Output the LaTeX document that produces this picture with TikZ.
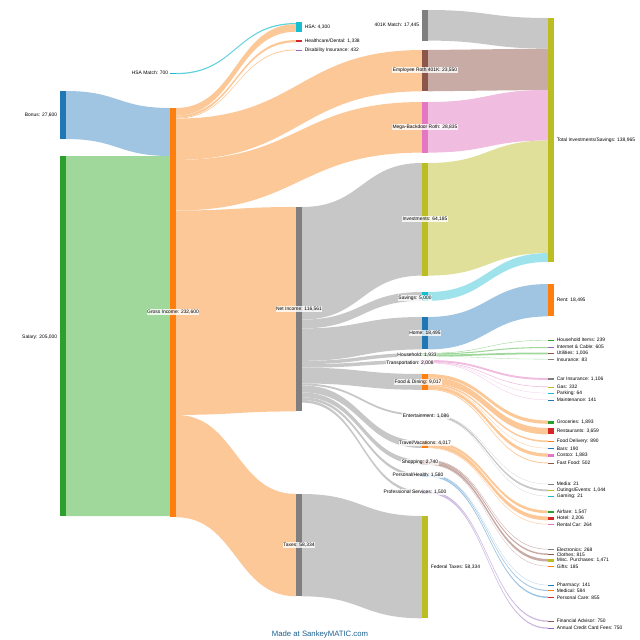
\documentclass[tikz,border=0pt]{standalone}
\usepackage{fontspec}
\setmainfont{Liberation Sans}
\definecolor{cblue}{HTML}{1F77B4}\definecolor{cgreen}{HTML}{2CA02C}
\definecolor{corange}{HTML}{FF7F0E}\definecolor{cred}{HTML}{D62728}
\definecolor{cpurple}{HTML}{9467BD}\definecolor{cbrown}{HTML}{8C564B}
\definecolor{cpink}{HTML}{E377C2}\definecolor{cgray}{HTML}{7F7F7F}
\definecolor{colive}{HTML}{BCBD22}\definecolor{ccyan}{HTML}{17BECF}
\definecolor{lblue}{HTML}{9FC5E2}\definecolor{lgreen}{HTML}{A0D79B}
\definecolor{lorange}{HTML}{FDC898}\definecolor{lgray}{HTML}{C7C7C7}
\definecolor{lbrown}{HTML}{C8ABA5}\definecolor{lpink}{HTML}{F0BDE0}
\definecolor{lolive}{HTML}{E0E09B}\definecolor{lcyan}{HTML}{9EE3EC}
\definecolor{lpurple}{HTML}{CDB9E0}
\newcommand{\flow}[6]{\fill[#6] (#1,#2) .. controls ({(#1+#3)/2},#2) and ({(#1+#3)/2},#4) .. (#3,#4)
  -- (#3,{#4+#5}) .. controls ({(#1+#3)/2},{#4+#5}) and ({(#1+#3)/2},{#2+#5}) .. (#1,{#2+#5}) -- cycle;}
\newcommand{\snode}[5]{\node[bar,fill=#5,minimum height={#4*0.025cm}] (#1) at ({#2+3},{#3+#4/2}) {};}
\begin{document}
\begin{tikzpicture}[x=0.025cm,y=-0.025cm,
  bar/.style={rectangle,draw=none,inner sep=0pt,minimum width=0.15cm},
  lbl/.style={font=\fontsize{3.5}{4}\selectfont,inner sep=0.4pt},
  lblw/.style={lbl,fill=white,fill opacity=0.8,text opacity=1},
  lft/.style={lbl,anchor=east},
  rgt/.style={lbl,anchor=west}]
\useasboundingbox (0,0) rectangle (640,640);
% flows, column 0 -> 1
\flow{66}{91}{170}{108}{48}{lblue}
\flow{66}{156}{170}{156}{360}{lgreen}
\flow{176}{73}{296}{23}{1.2}{ccyan!70}
% gross income
\flow{176}{108}{296}{24.2}{7.5}{lorange}
\flow{176}{115.5}{296}{40}{2.3}{lorange}
\flow{176}{117.8}{296}{49.5}{0.8}{lorange}
\flow{176}{118.6}{422}{50}{41.3}{lorange}
\flow{176}{159.9}{422}{102}{50.6}{lorange}
\flow{176}{210.5}{296}{207}{204.4}{lorange}
\flow{176}{414.9}{296}{494}{102.3}{lorange}
% net income
\flow{302}{207}{422}{163}{112.6}{lgray}
\flow{302}{319.6}{422}{292}{8.8}{lgray}
\flow{302}{328.4}{422}{317}{32.4}{lgray}
\flow{302}{360.8}{422}{353}{3.4}{lgray}
\flow{302}{364.2}{422}{360}{3.5}{lgray}
\flow{302}{367.7}{422}{374}{15.8}{lgray}
\flow{302}{383.5}{422}{414}{1.9}{lgray}
\flow{302}{385.4}{422}{441}{7.0}{lgray}
\flow{302}{392.4}{422}{460}{4.8}{lgray}
\flow{302}{397.2}{422}{474}{2.8}{lgray}
\flow{302}{400}{422}{491}{2.6}{lgray}
\flow{302}{494}{422}{516}{102.3}{lgray}
% column 3 -> 4
\flow{428}{10}{548}{18}{30.6}{lgray}
\flow{428}{50}{548}{48.6}{41.3}{lbrown}
\flow{428}{102}{548}{89.9}{50.6}{lpink}
\flow{428}{163}{548}{140.5}{112.6}{lolive}
\flow{428}{292}{548}{253.1}{8.8}{lcyan}
\flow{428}{317}{548}{284}{32.4}{lblue}
% household
\flow{428}{353}{548}{340}{0.42}{lgreen}
\flow{428}{353.4}{548}{347}{1.06}{lgreen}
\flow{428}{354.5}{548}{352.5}{1.76}{lgreen}
\flow{428}{356.3}{548}{359}{0.3}{lgreen}
% transportation
\flow{428}{360}{548}{378}{1.94}{lpink}
\flow{428}{361.9}{548}{386.5}{0.58}{lpink}
\flow{428}{362.5}{548}{393}{0.2}{lpink}
\flow{428}{362.7}{548}{399.7}{0.3}{lpink}
% food
\flow{428}{374}{548}{420.5}{3.32}{lorange}
\flow{428}{377.3}{548}{428}{6.42}{lorange}
\flow{428}{383.7}{548}{440.5}{1.56}{lorange}
\flow{428}{385.3}{548}{448}{0.33}{lorange}
\flow{428}{385.6}{548}{453.5}{3.3}{lorange}
\flow{428}{388.9}{548}{462.5}{0.88}{lorange}
% entertainment
\flow{428}{414}{548}{484}{0.2}{lgray}
\flow{428}{414.1}{548}{489.5}{1.83}{lgray}
\flow{428}{415.9}{548}{496}{0.2}{lgray}
% travel
\flow{428}{441}{548}{510.5}{2.71}{lorange}
\flow{428}{443.7}{548}{516.5}{3.87}{lorange}
\flow{428}{447.6}{548}{524}{0.46}{lorange}
% shopping
\flow{428}{460}{548}{549}{0.47}{lbrown}
\flow{428}{460.5}{548}{553.5}{1.43}{lbrown}
\flow{428}{461.9}{548}{559}{2.58}{lbrown}
\flow{428}{464.5}{548}{566}{0.32}{lbrown}
% personal / health
\flow{428}{474}{548}{585}{0.25}{lblue}
\flow{428}{474.3}{548}{590}{1.02}{lblue}
\flow{428}{475.3}{548}{596.5}{1.5}{lblue}
% professional services
\flow{428}{491}{548}{620.5}{1.32}{lpurple}
\flow{428}{492.3}{548}{627.5}{1.32}{lpurple}
% nodes
\snode{bonus}{60}{91}{48}{cblue}
\snode{salary}{60}{156}{360}{cgreen}
\snode{hsamatch}{170}{72.6}{1.2}{ccyan}
\snode{gross}{170}{108}{409}{corange}
\snode{hsa}{296}{22}{9.7}{ccyan}
\snode{health}{296}{40}{2.3}{cred}
\snode{disab}{296}{49.5}{0.8}{cpurple}
\snode{net}{296}{207}{204.4}{cgray}
\snode{taxes}{296}{494}{102.3}{cgray}
\snode{match}{422}{10}{30.6}{cgray}
\snode{roth}{422}{50}{41.3}{cbrown}
\snode{mega}{422}{102}{50.6}{cpink}
\snode{invest}{422}{163}{112.6}{colive}
\snode{savings}{422}{292}{8.8}{ccyan}
\snode{home}{422}{317}{32.4}{cblue}
\snode{household}{422}{353}{3.4}{cgreen}
\snode{transport}{422}{360}{3.5}{cpink}
\snode{food}{422}{374}{15.8}{corange}
\snode{ent}{422}{414}{1.9}{cgray}
\snode{travel}{422}{441}{7.0}{corange}
\snode{shop}{422}{460}{4.8}{cbrown}
\snode{personal}{422}{474}{2.8}{cblue}
\snode{prof}{422}{491}{2.6}{cpurple}
\snode{federal}{422}{516}{102.3}{colive}
\snode{total}{548}{18}{244}{colive}
\snode{rent}{548}{284}{32.4}{corange}
% leaf nodes
\foreach \n/\y/\h/\c in {hi/340/0.6/cgreen, ic/347/1.06/cpurple, ut/352.5/1.76/cbrown, ins/359/0.4/cgray,
  car/378/1.94/cgray, gas/386.5/0.58/colive, park/393/0.3/ccyan, maint/399.7/0.3/cblue,
  groc/420.5/3.32/cgreen, rest/428/6.42/cred, fdel/440.5/1.56/corange, bars/448/0.4/cblue, costco/453.5/3.3/cpink, ff/462.5/0.88/cbrown,
  media/484/0.3/cgray, outing/489.5/1.83/colive, gaming/496/0.3/ccyan,
  air/510.5/2.71/cgreen, hotel/516.5/3.87/cred, rental/524/0.46/cpink,
  elec/549/0.47/cgray, clothes/553.5/1.43/cbrown, misc/559/2.58/colive, gifts/566/0.4/corange,
  pharm/585/0.3/cblue, med/590/1.02/corange, pcare/596.5/1.5/cred,
  fa/620.5/1.32/cbrown, fees/627.5/1.32/cpurple}
  {\snode{\n}{548}{\y}{\h}{\c}}
% labels
\node[lft] at (58,115) {Bonus: 27,600};
\node[lft] at (58,337) {Salary: 205,000};
\node[lft] at (169,73) {HSA Match: 700};
\node[lblw] at (173,312) {Gross Income: 232,600};
\node[rgt] at (304,27) {HSA: 4,300};
\node[rgt] at (304,41) {Healthcare/Dental: 1,338};
\node[rgt] at (304,50) {Disability Insurance: 432};
\node[lblw] at (299,309) {Net Income: 116,561};
\node[lblw] at (299,545) {Taxes: 58,334};
\node[lft] at (420,25) {401K Match: 17,445};
\node[lblw] at (425,70) {Employee Roth 401K: 23,550};
\node[lblw] at (425,127) {Mega-Backdoor Roth: 28,835};
\node[lblw] at (425,219) {Investments: 64,185};
\node[lblw] at (415,298) {Savings: 5,000};
\node[lblw] at (425,333) {Home: 18,495};
\node[lblw] at (417,355) {Household: 1,933};
\node[lblw] at (410,363) {Transportation: 2,008};
\node[lblw] at (418,382) {Food \& Dining: 9,017};
\node[lblw] at (426,416) {Entertainment: 1,086};
\node[lblw] at (425,443) {Travel/Vacations: 4,017};
\node[lblw] at (420,462) {Shopping: 2,740};
\node[lblw] at (418,475) {Personal/Health: 1,580};
\node[lblw] at (415,492) {Professional Services: 1,500};
\node[rgt] at (430,567) {Federal Taxes: 58,334};
\node[rgt] at (556,140) {Total Investments/Savings: 138,965};
\node[rgt] at (556,300) {Rent: 18,495};
\foreach \y/\t in {340/{Household Items: 239}, 347/{Internet \& Cable: 605}, 353.4/{Utilities: 1,006}, 359.5/{Insurance: 83},
  379/{Car Insurance: 1,106}, 386.8/{Gas: 332}, 393.5/{Parking: 64}, 400/{Maintenance: 141},
  422/{Groceries: 1,893}, 431/{Restaurants: 3,659}, 441.3/{Food Delivery: 890}, 448.3/{Bars: 190}, 455/{Costco: 1,883}, 463/{Fast Food: 502},
  484/{Media: 21}, 490.4/{Outings/Events: 1,044}, 496.3/{Gaming: 21},
  512/{Airfare: 1,547}, 518.4/{Hotel: 2,206}, 524.3/{Rental Car: 264},
  549.3/{Electronics: 268}, 554.3/{Clothes: 815}, 560.3/{Misc. Purchases: 1,471}, 566.3/{Gifts: 185},
  585.3/{Pharmacy: 141}, 590.5/{Medical: 584}, 597.3/{Personal Care: 855},
  621.2/{Financial Advisor: 750}, 628.2/{Annual Credit Card Fees: 750}}
  {\node[rgt] at (556,\y) {\t};}
\node[lbl,font=\fontsize{5.5}{6}\selectfont,text=cblue!80!black] (credit) at (320,634) {Made at SankeyMATIC.com};
\end{tikzpicture}
\end{document}
